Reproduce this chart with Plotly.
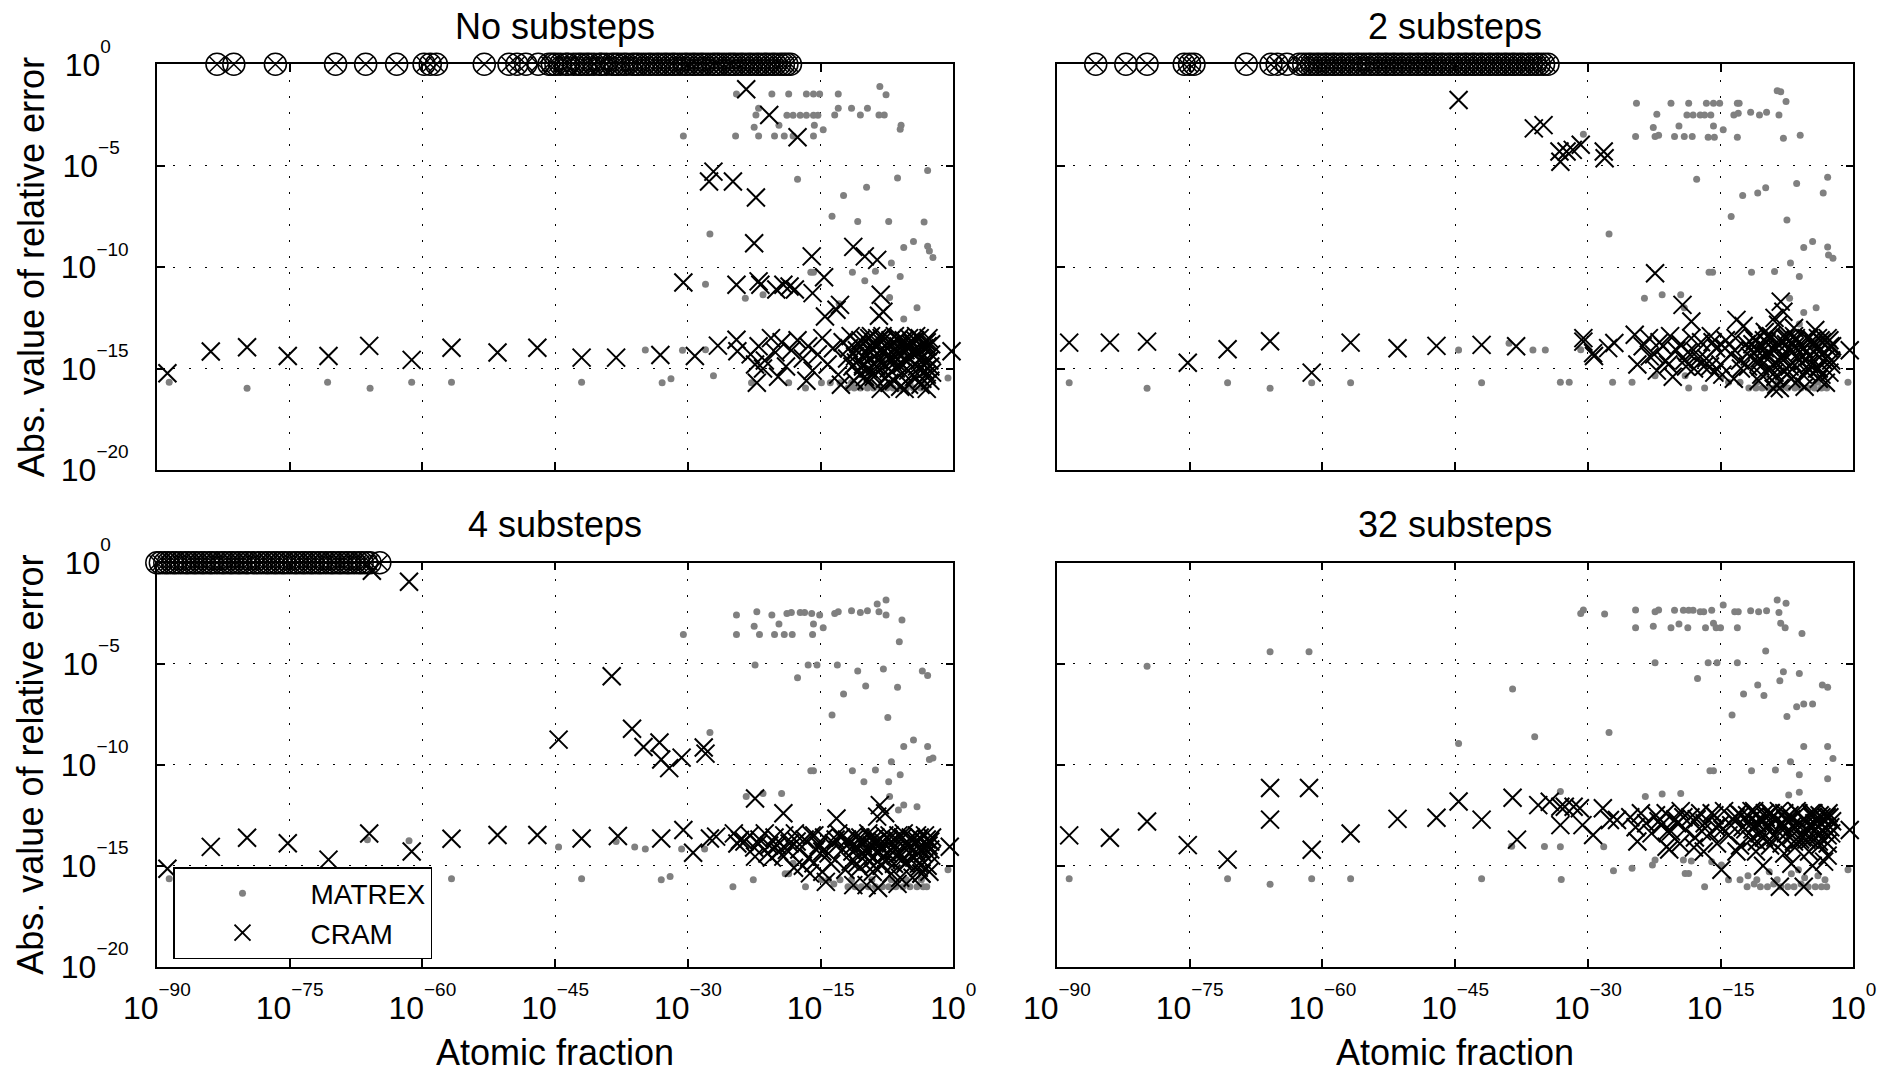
import plotly.graph_objects as go

W, H = 1883, 1072
FONT = "Liberation Sans, Arial, Helvetica, sans-serif"

# ---------------- tick definitions ----------------
EXP = '<sup><sup><span style="font-size:19px">{}</span></sup></sup>'
x_tick_exp = [-90, -75, -60, -45, -30, -15, 0]
x_ticktext = ["10" + EXP.format("−90"), "10" + EXP.format("−75"), "10" + EXP.format("−60"),
              "10" + EXP.format("−45"), "10" + EXP.format("−30"), "10" + EXP.format("−15"),
              "10" + EXP.format("0")]
y_tick_exp = [-20, -15, -10, -5, 0]
y_ticktext = ["10" + EXP.format("−20"), "10" + EXP.format("−15"), "10" + EXP.format("−10"),
              "10" + EXP.format("−5") + "\u00a0", "10" + EXP.format("0") + "\u00a0\u00a0"]

panel_titles = ["No substeps", "2 substeps", "4 substeps", "32 substeps"]
x_title = "Atomic fraction"
y_title = "Abs. value of relative error"
FAIL_ERROR = 1.0   # relative error of the circled (failed) CRAM points

# ---------------- data (log10 of atomic fraction, log10 of |relative error|) ----------------
# Panel 1: No substeps
p1_matrex_x = [-88.6, -79.8, -70.7, -65.9, -61.2, -56.7, -42.0, -34.8, -32.9, -31.9, -30.6, -28.0, -27.1, -22.8,
               -18.6, -16.7, -14.9, -13.9, -12.8, -0.6,
               -30.5, -24.5, -20.5, -18.6, -16.6, -15.8, -15.1, -13.0, -8.3, -7.6, -22.0, -22.3, -19.7, -18.8,
               -18.1, -17.3, -16.6, -15.8, -15.3, -13.4, -13.0, -11.5, -10.5, -9.7, -8.4, -7.8, -5.9, -6.0, -22.5,
               -24.6, -22.0, -20.2, -19.1, -18.1, -15.8, -15.7, -14.7,
               -17.6, -2.9, -6.3, -9.8, -12.4, -13.7, -10.8, -7.3, -3.3, -27.5, -4.5, -5.6, -2.9, -2.7, -2.3, -7.0,
               -16.1, -15.8, -11.4, -10.0, -8.8, -6.0, -7.2, -4.1, -5.6, -28.0, -23.5, -21.5, -12.9,
               -11.9, -11.2, -10.5, -9.7, -9.0, -8.2, -7.5, -6.8, -6.0, -5.3, -4.5, -3.7, -3.1, -11.5, -9.3, -7.1,
               -4.9, -3.4, -10.8, -8.0, -5.5, -3.3]
p1_matrex_y = [-15.67, -15.97, -15.67, -15.97, -15.67, -15.67, -15.67, -14.08, -15.7, -15.5, -14.1, -14.07, -15.35,
               -15.7, -15.7, -15.96, -15.7, -15.7, -15.7, -15.47,
               -3.53, -1.46, -1.46, -1.46, -1.46, -1.46, -1.46, -1.46, -1.1, -1.5, -2.17, -2.5, -3.0, -2.51,
               -2.51, -2.51, -2.51, -2.51, -2.51, -2.5, -2.17, -2.17, -2.5, -2.17, -2.5, -2.5, -3.0, -3.2, -3.1,
               -3.53, -3.53, -3.53, -3.53, -3.53, -3.53, -3.0, -3.23,
               -5.67, -5.24, -5.6, -6.06, -6.47, -7.49, -7.75, -7.75, -7.78, -8.37, -8.74, -9.03, -8.97, -9.2, -9.52,
               -9.8, -10.25, -10.25, -10.25, -10.67, -10.2, -10.46, -11.5, -12.0, -12.56, -10.84, -11.53, -11.36,
               -11.8,
               -15.96, -15.96, -15.96, -15.96, -15.96, -15.96, -15.96, -15.96, -15.96, -15.96, -15.96, -15.96,
               -15.96, -15.7, -15.7, -15.7, -15.7, -15.7, -14.1, -14.6, -14.3, -15.3]
p1_cram_x = [-88.8, -83.9, -79.8, -75.2, -70.6, -66.0, -61.2, -56.7, -51.5, -47.0, -42.0, -38.1, -33.1, -29.2, -30.5,
             -23.4, -20.8, -17.6, -27.1, -27.6, -24.9, -22.3, -22.5, -16.0, -11.3, -10.0, -8.6, -24.5, -22.0, -21.8,
             -20.0, -19.2, -18.5, -17.9, -15.9, -14.6, -14.5, -12.8, -13.2, -8.2, -7.9, -8.4,
             -26.6, -24.5, -24.4, -22.2, -22.4, -0.2,
             -22.9, -22.0, -21.3, -20.6, -20.1, -19.4, -18.9, -18.3, -17.6, -17.0, -16.4, -15.9, -15.3, -14.8,
             -14.2, -13.6, -13.0, -12.5, -12.0, -11.6, -11.2, -10.9, -10.5, -10.2, -9.8, -9.5, -9.1, -8.8, -8.5,
             -8.2, -7.9, -7.6, -7.3, -7.0, -6.7, -6.4, -6.1, -5.8, -5.5, -5.2, -4.9, -4.6, -4.3, -4.0, -3.7, -3.4,
             -3.1, -2.8, -2.5, -2.4, -11.4, -10.0, -8.9, -7.7, -6.9, -6.0, -5.0, -3.9, -3.0, -2.6, -9.3, -8.0, -6.6,
             -5.4, -4.2, -3.3, -12.7, -16.6, -19.8, -21.5]
p1_cram_y = [-15.23, -14.16, -13.95, -14.38, -14.38, -13.88, -14.57, -13.97, -14.21, -13.97, -14.46, -14.46, -14.33,
             -14.38, -10.76,
             -1.23, -2.5, -3.6, -5.29, -5.78, -5.78, -6.57, -8.82, -9.47, -9.0, -9.47, -9.64, -10.87, -10.7, -10.87,
             -11.1, -10.87, -10.95, -11.1, -11.28, -10.5, -12.43, -11.86, -12.1, -11.36, -12.2, -12.4,
             -13.87, -13.58, -14.15, -15.7, -14.8, -14.15,
             -14.3, -13.9, -14.6, -13.5, -14.2, -13.7, -14.9, -14.1, -13.6, -14.5, -13.9, -15.1, -14.3, -13.5,
             -14.8, -14.0, -15.3, -13.7, -14.5, -13.4, -15.6, -14.1, -13.6, -14.9, -14.3, -13.5, -15.2, -13.9, -14.6,
             -16.0, -13.6, -14.4, -15.0, -13.8, -15.6, -14.2, -13.5, -14.8, -16.0, -13.9, -14.5, -15.3, -13.6, -14.2,
             -15.8, -13.8, -14.7, -13.5, -14.3, -15.2, -14.9, -15.4, -14.8, -15.5, -14.6, -15.9, -13.5, -15.0, -16.0,
             -15.6, -13.4, -13.4, -13.4, -14.1, -13.4, -14.0, -15.8, -15.6, -15.4, -15.0]
p1_cram_dense_x = [-11.8, -11.0, -10.7, -10.3, -9.9, -9.6, -9.3, -9.0, -8.7, -8.3, -8.1, -7.8, -7.4, -7.1, -6.8,
                   -6.5, -6.2, -5.9, -5.6, -5.3, -5.1, -4.8, -4.5, -4.1, -3.8, -3.5, -3.2, -2.9, -2.7, -2.5, -10.6,
                   -9.0, -7.4, -5.7, -4.4, -3.0, -8.6, -6.3, -4.7, -2.9,
                   -11.1, -10.2, -9.4, -8.6, -7.8, -7.0, -6.2, -5.4, -4.6, -3.8, -3.0, -2.6, -9.8, -7.2, -5.0, -3.5]
p1_cram_dense_y = [-14.0, -14.7, -13.8, -14.4, -13.6, -15.0, -14.2, -13.7, -14.9, -14.1, -13.5, -14.8, -14.0, -13.6,
                   -14.3, -15.0, -13.9, -14.4, -13.6, -14.6, -15.1, -13.8, -14.1, -14.9, -13.5, -14.4, -15.1, -13.9,
                   -14.6, -13.8, -15.3, -15.4, -15.3, -15.2, -15.4, -15.3, -13.5, -13.6, -13.7, -15.0,
                   -14.4, -14.8, -13.9, -14.3, -14.1, -14.6, -14.8, -13.9, -14.2, -14.6, -13.7, -14.9, -15.6, -15.7,
                   -15.8, -15.5]
p1_fail_x = [-83.2, -81.3, -76.6, -69.8, -66.4, -62.9, -59.8, -59.1, -58.4, -53.0, -50.2, -49.3, -48.3, -46.9,
             -45.7, -45.3, -44.9, -44.4, -43.8, -43.5, -42.9, -42.4, -42.0, -41.5, -41.1, -40.6, -40.0, -39.7,
             -39.2, -38.6, -38.2, -37.8, -37.3, -36.9, -36.3, -35.9, -35.5, -35.0, -34.5, -34.1, -33.6, -33.2,
             -32.7, -32.3, -31.8, -31.4, -30.9, -30.4, -30.0, -29.5, -29.1, -28.6, -28.2, -27.7, -27.2, -26.8,
             -26.4, -25.9, -25.4, -25.0, -24.6, -24.1, -23.7, -23.2, -22.8, -22.3, -21.9, -21.4, -21.0, -20.5,
             -20.1, -19.6, -19.2, -18.8, -18.4]

# Panel 2: 2 substeps
p2_matrex_x = [-88.6, -79.8, -70.7, -65.9, -61.2, -56.8, -44.6, -42.0, -38.9, -36.2, -34.8, -33.1, -32.1, -30.8,
               -27.2, -25.0, -22.4, -19.0, -18.6, -16.8, -14.9, -14.1, -12.8, -0.6,
               -24.5, -20.6, -18.6, -16.6, -15.8, -15.1, -13.1, -12.9, -8.6, -8.2, -7.6, -22.2, -18.8, -18.1, -17.3,
               -16.8, -16.1, -13.5, -13.0, -11.6, -10.6, -9.8, -8.4, -22.6, -19.7, -15.8, -14.7, -24.6, -22.4, -22.0,
               -20.2, -19.1, -18.2, -16.4, -15.7, -13.1, -7.9, -6.0, -30.5,
               -17.7, -2.9, -3.4, -6.4, -9.9, -10.8, -12.5, -13.8, -7.5, -27.6, -4.6, -5.6, -2.9, -2.8, -2.3, -7.1,
               -16.3, -15.9, -11.5, -8.9, -6.1, -23.6, -21.6, -19.5, -19.1, -7.2, -4.2, -5.6, -6.1,
               -11.8, -11.0, -10.3, -9.6, -8.9, -8.1, -7.4, -6.6, -5.9, -5.1, -4.4, -3.6, -3.0, -10.9, -8.5, -6.3,
               -4.0, -9.9, -3.3]
p2_matrex_y = [-15.7, -15.97, -15.7, -15.97, -15.7, -15.7, -14.08, -15.7, -13.75, -14.08, -14.08, -15.68, -15.68,
               -14.07, -15.68, -15.68, -15.35, -15.35, -15.96, -15.96, -15.4, -15.68, -15.68, -15.68,
               -1.92, -1.92, -1.92, -1.92, -1.92, -1.92, -1.92, -1.92, -1.3, -1.35, -1.84, -2.46, -2.5, -2.5, -2.5,
               -2.5, -2.5, -2.5, -2.41, -2.36, -2.5, -2.36, -2.5, -3.12, -3.04, -3.04, -3.23, -3.56, -3.56, -3.5,
               -3.56, -3.56, -3.56, -3.6, -3.6, -3.6, -3.65, -3.5, -3.45,
               -5.67, -5.57, -6.35, -5.88, -6.08, -6.34, -6.47, -7.5, -7.67, -8.37, -8.74, -9.03, -9.01, -9.4, -9.56,
               -9.8, -10.25, -10.25, -10.25, -10.21, -10.46, -11.53, -11.36, -11.36, -12.0, -11.53, -12.0, -12.23,
               -12.8,
               -15.96, -15.96, -15.96, -15.96, -15.96, -15.96, -15.96, -15.96, -15.96, -15.96, -15.96, -15.96,
               -15.96, -15.68, -15.68, -15.68, -15.68, -15.3, -15.4]
p2_cram_x = [-88.6, -84.0, -79.8, -75.2, -70.7, -65.9, -61.2, -56.8, -51.5, -47.1, -42.0, -38.1, -44.6, -36.1,
             -35.0, -33.2, -33.1, -32.4, -31.7, -30.8, -28.2, -28.1, -30.5, -29.3,
             -22.4, -19.3, -18.3, -13.2, -8.2, -7.9, -8.9, -8.5, -30.5, -29.4, -27.7, -27.0, -24.7, -24.4,
             -8.3, -0.4,
             -23.8, -23.1, -22.5, -21.9, -21.2, -20.7, -20.0, -19.5, -18.9, -18.3, -17.8, -17.2, -16.6, -16.1,
             -15.5, -15.0, -14.4, -13.8, -13.3, -12.7, -12.1, -11.7, -11.3, -10.9, -10.5, -10.1, -9.7, -9.3, -8.9,
             -8.5, -8.1, -7.7, -7.3, -6.9, -6.5, -6.1, -5.7, -5.3, -4.9, -4.5, -4.1, -3.7, -3.3, -2.9, -2.5, -2.4,
             -22.2, -20.4, -18.0, -15.7, -13.5, -11.9, -10.7, -9.5, -8.7, -7.5, -6.3, -5.1, -3.9, -2.7, -12.4,
             -10.0, -6.7, -4.3, -16.9, -19.1, -14.8, -9.0, -5.5, -3.1]
p2_cram_y = [-13.72, -13.72, -13.67, -14.71, -14.05, -13.65, -15.2, -13.72, -14.0, -13.88, -13.83, -13.9, -1.76,
             -3.16, -3.0, -4.3, -4.8, -4.3, -4.22, -3.97, -4.3, -4.63, -13.67, -14.38,
             -10.3, -11.86, -12.68, -12.6, -11.7, -12.2, -12.5, -12.84, -13.5, -14.24, -13.99, -13.74, -13.33,
             -14.8, -15.96, -14.1,
             -13.9, -13.5, -14.3, -13.7, -14.6, -13.4, -14.1, -13.8, -14.9, -13.5, -14.2, -13.7, -14.5, -13.4,
             -14.0, -14.8, -13.6, -14.3, -13.5, -15.0, -13.8, -14.4, -13.5, -14.1, -14.9, -13.6, -14.3, -13.4,
             -15.2, -13.8, -14.5, -13.5, -14.0, -14.7, -13.6, -14.2, -15.3, -13.5, -14.4, -13.8, -15.0, -13.6,
             -14.2, -13.5, -14.6, -13.9, -15.1, -15.4, -15.0, -15.2, -15.5, -14.9, -15.6, -15.1, -15.8, -15.3,
             -15.6, -15.0, -15.5, -15.2, -12.9, -13.2, -13.0, -13.1, -14.9, -14.6, -15.3, -16.0, -15.9, -15.7]
p2_cram_dense_x = [-11.6, -11.1, -10.7, -10.3, -9.9, -9.5, -9.1, -8.7, -8.4, -8.0, -7.6, -7.2, -6.9, -6.5, -6.1,
                   -5.8, -5.4, -5.0, -4.6, -4.2, -3.9, -3.5, -3.1, -2.8, -2.5, -10.4, -8.8, -7.0, -5.2, -3.6, -9.7,
                   -6.7, -4.0, -2.6, -12.8, -14.5, -16.2, -18.7, -20.9, -23.0,
                   -11.4, -10.6, -9.8, -9.0, -8.2, -7.4, -6.6, -5.8, -5.0, -4.2, -3.4, -2.7, -10.0, -7.8, -5.6, -3.3,
                   -13.4, -15.9, -17.5, -21.5]
p2_cram_dense_y = [-14.1, -13.6, -14.7, -13.9, -14.3, -13.5, -14.8, -14.0, -13.6, -14.4, -13.8, -14.9, -14.2, -13.5,
                   -14.6, -13.9, -14.2, -14.8, -13.6, -14.3, -15.0, -13.7, -14.5, -14.0, -14.8, -15.3, -15.4, -15.5,
                   -15.2, -15.3, -13.4, -13.4, -13.5, -13.9, -14.6, -14.0, -14.9, -14.2, -14.8, -14.4,
                   -13.8, -14.5, -13.7, -14.1, -14.7, -13.5, -13.9, -14.7, -13.5, -14.0, -14.6, -13.6, -14.0, -15.1,
                   -14.0, -14.2, -14.1, -13.7, -14.5, -13.9]
p2_fail_x = [-85.6, -82.2, -79.8, -75.6, -75.0, -74.5, -68.6, -65.8, -65.1, -64.0, -62.6,
             -62.1, -61.6, -61.2, -60.7, -60.3, -59.8, -59.4, -58.9, -58.5, -58.0, -57.6, -57.1, -56.7, -56.2,
             -55.8, -55.3, -54.8, -54.4, -53.9, -53.5, -53.0, -52.6, -52.1, -51.7, -51.2, -50.8, -50.3, -49.9,
             -49.4, -49.0, -48.5, -48.1, -47.6, -47.2, -46.7, -46.3, -45.8, -45.4, -44.9, -44.5, -44.0, -43.6,
             -43.1, -42.7, -42.2, -41.8, -41.3, -40.9, -40.4, -40.0, -39.5, -39.1, -38.6, -38.2, -37.7, -37.3,
             -36.8, -36.4, -35.9, -35.5, -35.0, -34.5]

# Panel 3: 4 substeps
p3_matrex_x = [-88.6, -79.8, -66.2, -61.5, -56.7, -44.6, -42.0, -38.1, -36.0, -34.8, -33.0, -32.0, -30.7, -28.1,
               -24.9, -22.6, -19.0, -18.6, -18.1, -16.7, -14.9, -14.1, -12.8, -0.6,
               -30.5, -24.5, -24.5, -22.2, -22.5, -21.9, -20.5, -19.7, -20.2, -19.1, -18.2, -18.8, -18.3, -17.3,
               -16.8, -16.0, -15.1, -15.8, -15.9, -14.7, -13.4, -13.0, -11.5, -10.5, -9.7, -8.6, -7.6, -8.4, -7.6,
               -5.8, -6.1,
               -22.4, -16.4, -15.4, -13.1, -17.6, -10.8, -7.9, -3.5, -2.9, -9.9, -6.3, -12.4, -13.7, -7.4, -27.5,
               -4.5, -5.6, -2.9, -2.7, -2.3, -7.0, -16.1, -15.8, -11.4, -10.1, -8.8, -7.3, -6.0, -23.4, -21.5, -19.4,
               -7.2, -5.6, -4.1, -6.2,
               -11.9, -11.1, -10.4, -9.6, -8.8, -8.0, -7.3, -6.5, -5.7, -4.9, -4.1, -3.4, -3.0, -11.5, -9.2, -7.0,
               -5.3, -3.6, -13.5]
p3_matrex_y = [-15.65, -16.14, -13.71, -13.76, -15.65, -14.07, -15.65, -13.8, -14.07, -14.17, -15.7, -15.54, -14.17,
               -14.17, -16.04, -15.7, -15.4, -15.4, -14.88, -16.04, -15.7, -15.7, -15.7, -15.2,
               -3.55, -2.59, -3.55, -2.43, -3.14, -3.55, -2.59, -3.04, -3.55, -3.55, -3.55, -2.51, -2.46, -2.46,
               -2.46, -2.51, -2.59, -3.04, -3.55, -3.22, -2.51, -2.43, -2.38, -2.46, -2.38, -2.05, -1.85, -2.43,
               -2.59, -2.84, -3.91,
               -5.07, -5.07, -5.07, -5.07, -5.69, -5.36, -5.26, -5.36, -5.58, -6.1, -6.17, -6.5, -7.54, -7.66, -8.4,
               -8.78, -9.1, -9.1, -9.74, -9.67, -9.85, -10.3, -10.3, -10.3, -10.84, -10.26, -10.84, -10.5, -11.58,
               -11.42, -11.42, -11.58, -12.0, -12.08, -12.24,
               -16.04, -16.04, -16.04, -16.04, -16.04, -16.04, -16.04, -16.04, -16.04, -16.04, -16.04, -16.04,
               -16.04, -15.7, -15.7, -15.7, -15.7, -15.7, -15.9]
p3_cram_x = [-88.8, -83.9, -79.8, -75.2, -70.6, -66.0, -61.2, -56.7, -51.5, -47.0, -42.0, -37.9, -33.0, -30.5,
             -29.4, -27.5, -26.8,
             -44.6, -38.6, -36.3, -35.0, -33.2, -33.0, -32.1, -30.7, -28.2, -28.0, -61.5, -65.7,
             -22.4, -19.2, -13.2, -8.3, -7.7, -8.6,
             -24.8, -24.4, -24.1, -22.4, -19.2, -18.8, -16.2, -15.8, -14.8, -11.3, -9.8, -8.5, -3.6, -0.4,
             -23.6, -23.0, -22.5, -21.9, -21.3, -20.8, -20.2, -19.7, -19.1, -18.5, -17.9, -17.4, -16.8, -16.3,
             -15.7, -15.2, -14.6, -14.1, -13.5, -13.0, -12.5, -12.0, -11.6, -11.2, -10.8, -10.4, -10.0, -9.6, -9.2,
             -8.8, -8.4, -8.0, -7.6, -7.2, -6.8, -6.4, -6.0, -5.6, -5.2, -4.8, -4.4, -4.0, -3.6, -3.2, -2.8, -2.5,
             -2.4, -17.0, -13.8, -12.2, -9.0, -7.0, -5.4, -3.9, -2.7, -6.3, -10.6, -20.5, -18.0, -14.4, -4.6]
p3_cram_y = [-15.15, -14.07, -13.62, -13.89, -14.7, -13.41, -14.3, -13.67, -13.48, -13.48, -13.65, -13.53, -13.65,
             -13.23, -14.36, -13.65, -13.56,
             -8.76, -5.62, -8.22, -9.12, -8.9, -9.74, -10.17, -9.65, -9.15, -9.45, -0.94, -0.4,
             -11.67, -12.4, -12.66, -12.0, -12.4, -12.57,
             -13.4, -13.9, -13.73, -14.55, -14.55, -14.22, -15.38, -14.88, -15.3, -15.96, -15.96, -16.1, -15.38,
             -14.06,
             -13.8, -13.5, -14.1, -13.7, -13.4, -14.0, -13.6, -14.3, -13.5, -13.9, -13.4, -14.2, -13.7, -14.6,
             -13.5, -14.0, -13.6, -14.4, -13.9, -13.4, -14.2, -13.7, -14.8, -13.5, -14.1, -13.8, -14.5, -13.4,
             -14.0, -13.6, -14.3, -13.8, -14.7, -13.5, -14.1, -13.7, -14.4, -13.4, -14.0, -13.6, -14.6, -13.8,
             -14.2, -13.5, -14.0, -14.5, -13.6, -15.0, -14.9, -15.2, -15.0, -15.4, -14.9, -15.1, -15.3, -15.9,
             -15.1, -14.6, -15.1, -15.8, -15.6]
p3_cram_dense_x = [-11.8, -11.4, -11.0, -10.6, -10.2, -9.8, -9.4, -9.0, -8.6, -8.2, -7.8, -7.4, -7.0, -6.6, -6.2,
                   -5.8, -5.4, -5.0, -4.6, -4.2, -3.8, -3.4, -3.0, -2.6, -10.9, -9.5, -8.1, -6.7, -5.3, -3.9, -2.9,
                   -22.0, -19.9, -17.7, -15.5, -13.3, -21.0, -16.0, -14.8, -12.7,
                   -11.3, -10.5, -9.7, -8.9, -8.1, -7.3, -6.5, -5.7, -4.9, -4.1, -3.3, -2.6, -9.1, -6.0, -3.6]
p3_cram_dense_y = [-13.9, -14.3, -13.6, -14.5, -13.9, -14.2, -13.6, -14.6, -13.8, -14.1, -13.5, -14.4, -13.8, -14.2,
                   -13.5, -14.7, -13.9, -14.1, -13.7, -14.3, -13.6, -14.4, -13.7, -14.2, -14.9, -14.8, -15.0, -14.9,
                   -14.8, -14.9, -15.0, -13.9, -14.0, -13.8, -14.2, -13.7, -14.4, -13.5, -14.3, -13.6,
                   -14.0, -13.6, -14.4, -13.9, -14.6, -13.7, -14.5, -13.6, -14.4, -13.5, -14.1, -13.8, -15.3, -15.6,
                   -15.4]
p3_fail_x = [-90.0, -89.6, -89.1, -88.7, -88.2, -87.8, -87.3, -86.8, -86.4, -85.9, -85.5, -85.0, -84.6, -84.1,
             -83.7, -83.2, -82.7, -82.3, -81.8, -81.4, -80.9, -80.5, -80.0, -79.6, -79.1, -78.6, -78.2, -77.7,
             -77.3, -76.8, -76.4, -75.9, -75.5, -75.0, -74.5, -74.1, -73.6, -73.2, -72.7, -72.3, -71.8, -71.4,
             -70.9, -70.4, -70.0, -69.5, -69.1, -68.6, -68.2, -67.7, -67.2, -66.8, -66.3, -65.9, -64.8]

# Panel 4: 32 substeps
p4_matrex_x = [-88.6, -79.8, -70.7, -65.9, -65.9, -61.5, -61.2, -56.8, -44.6, -42.0, -38.5, -36.0, -38.6, -34.9,
               -33.1, -33.0, -33.1, -30.8, -30.5, -28.1, -27.6, -28.2, -27.1, -25.0, -22.7, -22.4, -19.2, -18.3,
               -19.0, -18.6, -16.8, -16.0, -14.9, -14.1, -12.8, -0.6,
               -24.6, -24.6, -22.4, -22.0, -22.6, -20.2, -19.2, -18.6, -18.1, -17.3, -16.9, -16.0, -20.6, -19.7,
               -18.7, -16.7, -15.8, -15.5, -15.0, -14.7, -13.4, -13.0, -13.1, -11.6, -10.7, -9.8, -8.6, -7.6, -8.4,
               -8.2, -7.7, -5.8, -9.9,
               -22.4, -16.4, -15.4, -13.1, -17.6, -7.9, -8.3, -6.1, -10.8, -10.1, -3.5, -2.9, -12.4, -13.7, -7.5,
               -6.4, -5.6, -4.6, -5.6, -2.9, -2.3, -7.1, -16.2, -15.8, -11.5, -8.8, -6.1, -2.9, -23.5, -21.6, -19.5,
               -7.3, -6.1,
               -12.0, -11.2, -10.5, -9.7, -9.0, -8.2, -7.4, -6.7, -5.9, -5.1, -4.3, -3.6, -3.0, -10.9, -8.6, -7.0,
               -5.5, -4.0, -3.2, -9.5, -6.2, -11.9]
p4_matrex_y = [-15.65, -5.13, -15.65, -4.41, -15.92, -4.41, -15.65, -15.65, -8.95, -15.65, -6.25, -8.62, -14.04,
               -14.05, -11.33, -15.68, -14.06, -2.51, -2.34, -2.54, -8.4, -14.06, -15.25, -15.13, -14.97, -14.72,
               -14.72, -14.77, -15.38, -15.38, -16.04, -14.8, -14.97, -15.7, -15.7, -15.2,
               -2.34, -3.22, -2.43, -2.34, -3.14, -2.35, -2.35, -2.35, -2.35, -2.43, -2.43, -2.35, -3.22, -3.04,
               -3.22, -3.22, -3.0, -3.22, -3.22, -2.1, -2.43, -2.43, -3.22, -2.38, -2.43, -2.38, -1.85, -2.01, -2.46,
               -3.0, -3.22, -3.5, -4.37,
               -4.95, -4.95, -4.95, -4.95, -5.73, -5.4, -5.84, -5.48, -6.06, -6.58, -6.06, -6.17, -6.5, -7.54,
               -7.62, -7.13, -7.0, -7.0, -9.1, -9.1, -9.69, -9.85, -10.3, -10.3, -10.3, -10.26, -10.5, -10.7,
               -11.58, -11.45, -11.42, -11.5, -11.37,
               -16.04, -15.9, -16.04, -16.04, -15.9, -16.04, -16.04, -16.04, -15.9, -16.04, -16.04, -16.04, -16.04,
               -15.7, -15.7, -15.4, -15.6, -15.5, -15.7, -15.3, -15.2, -15.5]
p4_cram_x = [-88.6, -84.0, -79.8, -75.2, -70.7, -65.9, -65.9, -61.5, -61.2, -56.8, -51.5, -47.1, -44.6, -42.0,
             -38.5, -38.0, -35.6, -34.3, -33.1, -32.6, -31.6, -30.9, -33.1, -30.6, -29.4, -28.3, -27.5, -26.7,
             -24.4, -21.1, -19.6, -16.9, -14.9, -13.2, -8.3, -5.6, -0.4,
             -25.2, -24.6, -24.0, -23.4, -22.8, -22.3, -21.7, -21.2, -20.6, -20.1, -19.5, -19.0, -18.4, -17.9,
             -17.3, -16.8, -16.2, -15.7, -15.1, -14.6, -14.1, -13.6, -13.0, -12.5, -12.0, -11.6, -11.2, -10.8,
             -10.4, -10.0, -9.6, -9.2, -8.8, -8.4, -8.0, -7.6, -7.2, -6.8, -6.4, -6.0, -5.6, -5.2, -4.8, -4.4,
             -4.0, -3.6, -3.2, -2.8, -2.5, -2.4, -20.8, -18.0, -15.4, -12.8, -11.0, -9.4, -7.8, -6.6, -5.0, -3.8,
             -2.9, -10.2, -7.0, -4.6, -3.3]
p4_cram_y = [-13.5, -13.62, -12.81, -13.98, -14.7, -11.15, -12.72, -11.15, -14.21, -13.41, -12.68, -12.63, -11.82,
             -12.72, -11.64, -13.71, -12.0, -11.83, -12.08, -12.08, -12.08, -12.16, -12.99, -12.99, -13.48, -12.16,
             -12.74, -12.74,
             -13.8, -14.06, -13.9, -14.3, -15.2, -14.3, -16.04, -16.04, -13.23,
             -12.6, -13.1, -12.4, -12.9, -13.4, -12.5, -13.0, -12.4, -13.3, -12.7, -12.3, -13.2, -12.6, -13.6,
             -12.4, -12.9, -13.4, -12.5, -13.0, -12.3, -13.5, -12.7, -12.4, -13.1, -12.5, -13.7, -12.3, -12.9,
             -13.3, -12.4, -13.0, -12.6, -13.6, -12.3, -12.9, -13.4, -12.5, -13.0, -12.3, -13.7, -12.7, -13.2,
             -12.4, -12.9, -13.5, -12.6, -13.1, -12.4, -13.4, -12.8, -14.2, -14.1, -13.9, -14.0, -14.3, -14.0,
             -14.4, -14.1, -14.3, -14.0, -14.5, -15.0, -14.9, -15.0, -14.8]
p4_cram_dense_x = [-11.8, -11.4, -11.0, -10.6, -10.2, -9.8, -9.4, -9.0, -8.6, -8.2, -7.8, -7.4, -7.0, -6.6, -6.2,
                   -5.8, -5.4, -5.0, -4.6, -4.2, -3.8, -3.4, -3.0, -2.6, -10.9, -9.5, -8.1, -6.7, -5.3, -3.9, -2.9,
                   -22.0, -19.9, -17.7, -15.5, -13.3, -21.0, -16.0, -14.8, -12.7,
                   -11.5, -10.9, -10.1, -9.3, -8.5, -7.7, -6.9, -6.1, -5.3, -4.5, -3.7, -2.9, -12.2, -9.9, -7.3,
                   -4.9, -2.7, -13.8, -17.1, -19.2]
p4_cram_dense_y = [-12.8, -13.2, -12.5, -13.4, -12.8, -13.1, -12.4, -13.5, -12.7, -13.0, -12.4, -13.3, -12.7, -13.1,
                   -12.4, -13.6, -12.8, -13.0, -12.6, -13.2, -12.5, -13.3, -12.6, -13.1, -13.8, -13.7, -13.9, -13.8,
                   -13.7, -13.8, -13.9, -12.8, -12.9, -12.7, -13.1, -12.6, -13.3, -12.4, -13.2, -12.5,
                   -12.3, -12.9, -13.6, -12.4, -13.3, -12.7, -13.5, -12.9, -13.4, -12.4, -12.9, -13.5, -13.2, -12.6,
                   -12.8, -13.7, -12.6, -13.0, -13.3, -12.6]
p4_fail_x = []

panels = [
    (p1_matrex_x, p1_matrex_y, p1_cram_x + p1_cram_dense_x, p1_cram_y + p1_cram_dense_y, p1_fail_x),
    (p2_matrex_x, p2_matrex_y, p2_cram_x + p2_cram_dense_x, p2_cram_y + p2_cram_dense_y, p2_fail_x),
    (p3_matrex_x, p3_matrex_y, p3_cram_x + p3_cram_dense_x, p3_cram_y + p3_cram_dense_y, p3_fail_x),
    (p4_matrex_x, p4_matrex_y, p4_cram_x + p4_cram_dense_x, p4_cram_y + p4_cram_dense_y, p4_fail_x),
]

# ---------------- layout geometry (pixels) ----------------
col_px = [(156.8, 953.3), (1056.8, 1853.3)]
row_px = [(64.3, 470.0), (562.7, 966.7)]


def px_x(v):
    return v / W


def px_y(v):
    return 1 - v / H


def pow10(vals):
    return [10.0 ** v for v in vals]


fig = go.Figure()

for i, (mx, my, cx, cy, fx) in enumerate(panels):
    n = i + 1
    xa = "x" if n == 1 else f"x{n}"
    ya = "y" if n == 1 else f"y{n}"
    fig.add_trace(go.Scatter(
        x=pow10(mx), y=pow10(my), mode="markers", name="MATREX",
        legendgroup="matrex", showlegend=(n == 1), cliponaxis=False,
        marker=dict(symbol="circle", size=7, color="#808080", line=dict(width=0)),
        xaxis=xa, yaxis=ya))
    fig.add_trace(go.Scatter(
        x=pow10(cx), y=pow10(cy), mode="markers", name="CRAM",
        legendgroup="cram", showlegend=(n == 1), cliponaxis=False,
        marker=dict(symbol="x-thin", size=18, color="black", line=dict(width=2, color="black")),
        xaxis=xa, yaxis=ya))
    if fx:
        fig.add_trace(go.Scatter(
            x=pow10(fx), y=[FAIL_ERROR] * len(fx), mode="markers", name="CRAM failed",
            showlegend=False, cliponaxis=False,
            marker=dict(symbol="circle-x-open", size=22, color="black", line=dict(width=1.5, color="black")),
            xaxis=xa, yaxis=ya))

axis_common = dict(
    type="log", showline=True, linecolor="black", linewidth=1.5, mirror="ticks",
    ticks="inside", ticklen=8, tickwidth=1.5, tickcolor="black",
    showgrid=True, gridcolor="black", gridwidth=1, griddash="2px,14px",
    zeroline=False, tickfont=dict(family=FONT, size=32, color="black"),
)

layout = dict(
    width=W, height=H, margin=dict(l=0, r=0, t=0, b=0, autoexpand=False),
    paper_bgcolor="white", plot_bgcolor="white",
    font=dict(family=FONT, color="black"),
    showlegend=True,
    legend=dict(x=px_x(173), y=px_y(867), xanchor="left", yanchor="top",
                bordercolor="black", borderwidth=1.5, bgcolor="white",
                font=dict(family=FONT, size=28, color="black"), itemwidth=126,
                tracegroupgap=0),
)

annotations = []
for i in range(4):
    n = i + 1
    r, c = divmod(i, 2)
    x0, x1 = col_px[c]
    y0, y1 = row_px[r]
    xkey = "xaxis" if n == 1 else f"xaxis{n}"
    ykey = "yaxis" if n == 1 else f"yaxis{n}"
    xa = dict(axis_common)
    xa.update(domain=[px_x(x0), px_x(x1)], range=[-90, 0],
              anchor="y" if n == 1 else f"y{n}",
              tickmode="array", tickvals=pow10(x_tick_exp), ticktext=x_ticktext,
              showticklabels=(r == 1), ticklabelstandoff=12)
    ya = dict(axis_common)
    ya.update(domain=[px_y(y1), px_y(y0)], range=[-20, 0],
              anchor="x" if n == 1 else f"x{n}",
              tickmode="array", tickvals=pow10(y_tick_exp), ticktext=y_ticktext,
              showticklabels=(c == 0), ticklabelstandoff=20)
    layout[xkey] = xa
    layout[ykey] = ya
    # panel title
    annotations.append(dict(text=panel_titles[i], x=px_x((x0 + x1) / 2), y=px_y(y0 - 38),
                            xref="paper", yref="paper", xanchor="center", yanchor="middle",
                            showarrow=False, font=dict(family=FONT, size=36, color="black")))
    if r == 1:
        annotations.append(dict(text=x_title, x=px_x((x0 + x1) / 2), y=px_y(1052),
                                xref="paper", yref="paper", xanchor="center", yanchor="middle",
                                showarrow=False, font=dict(family=FONT, size=36, color="black")))
    if c == 0:
        annotations.append(dict(text=y_title, x=px_x(31), y=px_y((y0 + y1) / 2),
                                xref="paper", yref="paper", xanchor="center", yanchor="middle",
                                textangle=-90, showarrow=False,
                                font=dict(family=FONT, size=36, color="black")))

layout["annotations"] = annotations
fig.update_layout(**layout)

fig.write_html("out.html", config={"displayModeBar": False},
               post_script="document.body.style.margin='0';document.body.style.overflow='hidden';")
